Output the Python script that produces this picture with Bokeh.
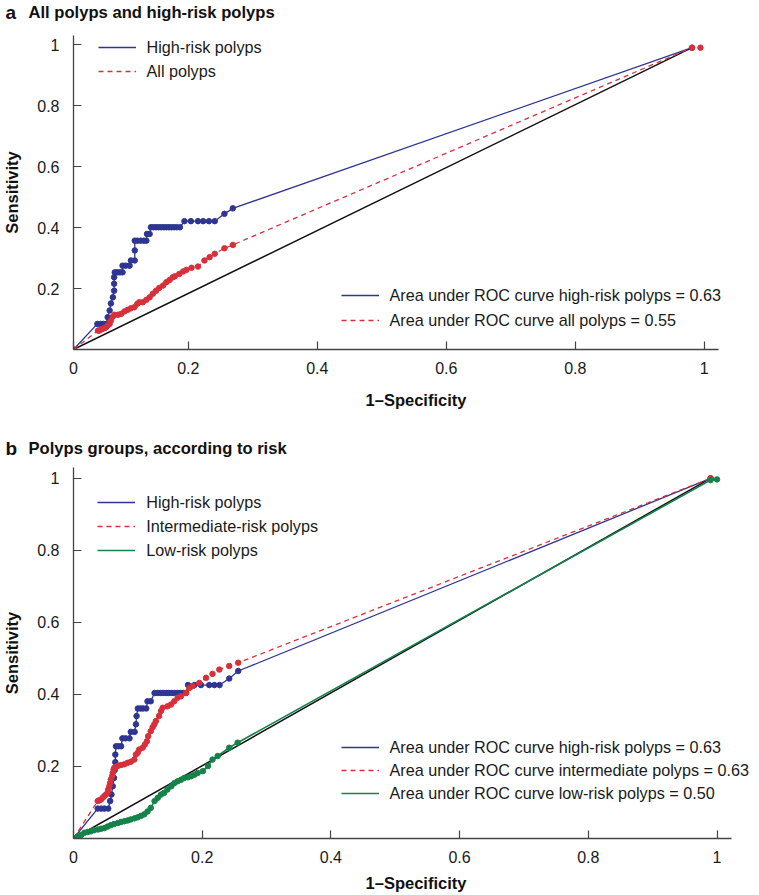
from bokeh.plotting import figure
from bokeh.models import (Legend, LegendItem, Label, FixedTicker,
                          CustomJSTickFormatter, Range1d)
from bokeh.layouts import column
from bokeh.embed import file_html
from bokeh.resources import INLINE

FONT = "Liberation Sans"
BLUE = "#2E3592"
RED = "#D7303A"
GREEN = "#158349"
BLACK = "#111111"
TOTAL_W = 757

# ---------------- data: panel a ----------------
a_x_origin = 0.022
a_high_x = [0.022, 0.059, 0.064, 0.068, 0.073, 0.075, 0.078, 0.080, 0.083, 0.085, 0.085, 0.085,
            0.086, 0.090, 0.094, 0.098, 0.098, 0.103, 0.109, 0.111, 0.117, 0.117, 0.117, 0.121,
            0.126, 0.131, 0.135, 0.136, 0.140, 0.142, 0.146, 0.150, 0.154, 0.158, 0.162, 0.166,
            0.170, 0.174, 0.178, 0.182, 0.187, 0.194, 0.204, 0.215, 0.223, 0.232, 0.241, 0.256,
            0.269, 0.981]
a_high_y = [0.000, 0.084, 0.084, 0.084, 0.084, 0.106, 0.128, 0.151, 0.171, 0.193, 0.216, 0.237,
            0.253, 0.253, 0.253, 0.253, 0.275, 0.275, 0.275, 0.292, 0.292, 0.325, 0.357, 0.357,
            0.357, 0.357, 0.357, 0.379, 0.379, 0.401, 0.401, 0.401, 0.401, 0.401, 0.401, 0.401,
            0.401, 0.401, 0.401, 0.401, 0.401, 0.421, 0.421, 0.421, 0.421, 0.421, 0.421, 0.445,
            0.463, 0.990]
a_all_x = [0.022, 0.060, 0.062, 0.065, 0.067, 0.070, 0.0725, 0.075, 0.078, 0.080, 0.083, 0.0855,
           0.091, 0.096, 0.101, 0.106, 0.111, 0.1165, 0.121, 0.124, 0.1295, 0.135, 0.140, 0.145,
           0.150, 0.155, 0.161, 0.166, 0.171, 0.176, 0.179, 0.186, 0.192, 0.197, 0.205, 0.215,
           0.225, 0.233, 0.241, 0.256, 0.269, 0.981, 0.994]
a_all_y = [0.000, 0.062, 0.062, 0.066, 0.068, 0.070, 0.073, 0.079, 0.084, 0.095, 0.108, 0.114,
           0.114, 0.117, 0.125, 0.130, 0.135, 0.139, 0.150, 0.155, 0.155, 0.163, 0.171, 0.183,
           0.193, 0.202, 0.210, 0.221, 0.228, 0.237, 0.240, 0.248, 0.256, 0.261, 0.268, 0.272,
           0.292, 0.303, 0.314, 0.332, 0.343, 0.990, 0.990]
a_diag_x = [0.022, 0.981]
a_diag_y = [0.0, 0.990]
a_title = ("a", "All polyps and high-risk polyps")
a_labels = ["High-risk polyps", "All polyps"]
a_auc = ["Area under ROC curve high-risk polyps = 0.63",
         "Area under ROC curve all polyps = 0.55"]

# ---------------- data: panel b ----------------
b_high_x = [0.0, 0.0376, 0.043, 0.048, 0.054, 0.057, 0.059, 0.061, 0.063, 0.064, 0.065, 0.065,
            0.066, 0.070, 0.074, 0.076, 0.081, 0.087, 0.089, 0.095, 0.097, 0.098, 0.100, 0.104,
            0.108, 0.113, 0.115, 0.120, 0.126, 0.130, 0.135, 0.139, 0.144, 0.148, 0.153, 0.157,
            0.162, 0.166, 0.171, 0.175, 0.178, 0.188, 0.198, 0.211, 0.219, 0.227, 0.242, 0.256,
            0.990]
b_high_y = [0.0, 0.083, 0.083, 0.083, 0.083, 0.104, 0.122, 0.145, 0.168, 0.190, 0.212, 0.233,
            0.256, 0.256, 0.256, 0.278, 0.278, 0.278, 0.296, 0.296, 0.317, 0.340, 0.361, 0.361,
            0.361, 0.361, 0.381, 0.381, 0.404, 0.404, 0.404, 0.404, 0.404, 0.404, 0.404, 0.404,
            0.404, 0.404, 0.404, 0.404, 0.426, 0.426, 0.426, 0.426, 0.426, 0.426, 0.444, 0.465,
            1.000]
b_mid_x = [0.0, 0.0376, 0.040, 0.0427, 0.0453, 0.048, 0.0505, 0.053, 0.054, 0.0557, 0.057, 0.058,
           0.060, 0.061, 0.0624, 0.0634, 0.066, 0.0687, 0.0738, 0.079, 0.084, 0.089, 0.0945, 0.097,
           0.0998, 0.102, 0.1075, 0.111, 0.114, 0.116, 0.120, 0.123, 0.1256, 0.128, 0.133, 0.136,
           0.1386, 0.146, 0.1515, 0.1566, 0.162, 0.167, 0.175, 0.180, 0.185, 0.1955, 0.206, 0.216,
           0.2266, 0.242, 0.256, 0.990]
b_mid_y = [0.0, 0.104, 0.106, 0.108, 0.113, 0.118, 0.122, 0.127, 0.136, 0.145, 0.154, 0.164,
           0.173, 0.182, 0.192, 0.196, 0.199, 0.201, 0.204, 0.206, 0.210, 0.213, 0.219, 0.233,
           0.238, 0.247, 0.252, 0.261, 0.270, 0.284, 0.298, 0.309, 0.317, 0.326, 0.340, 0.354,
           0.363, 0.367, 0.372, 0.381, 0.391, 0.395, 0.404, 0.418, 0.423, 0.432, 0.446, 0.457,
           0.469, 0.479, 0.488, 1.000]
b_low_x = [0.0, 0.0065, 0.012, 0.017, 0.022, 0.027, 0.032, 0.038, 0.043, 0.048, 0.053, 0.058,
           0.063, 0.069, 0.074, 0.079, 0.084, 0.089, 0.095, 0.100, 0.105, 0.110, 0.115, 0.120,
           0.126, 0.131, 0.136, 0.141, 0.146, 0.152, 0.157, 0.162, 0.167, 0.172, 0.178, 0.183,
           0.188, 0.193, 0.201, 0.209, 0.216, 0.224, 0.242, 0.255, 0.990, 1.000]
b_low_y = [0.0, 0.006, 0.010, 0.016, 0.018, 0.020, 0.023, 0.025, 0.027, 0.029, 0.033, 0.037,
           0.040, 0.043, 0.046, 0.048, 0.050, 0.053, 0.056, 0.059, 0.063, 0.067, 0.075, 0.085,
           0.104, 0.113, 0.122, 0.127, 0.136, 0.145, 0.154, 0.159, 0.163, 0.168, 0.170, 0.173,
           0.177, 0.182, 0.187, 0.201, 0.219, 0.229, 0.252, 0.266, 0.995, 0.997]
b_diag_x = [0.0, 0.990]
b_diag_y = [0.0, 1.000]
b_title = ("b", "Polyps groups, according to risk")
b_labels = ["High-risk polyps", "Intermediate-risk polyps", "Low-risk polyps"]
b_auc = ["Area under ROC curve high-risk polyps = 0.63",
         "Area under ROC curve intermediate polyps = 0.63",
         "Area under ROC curve low-risk polyps = 0.50"]

y_ticks = [0.2, 0.4, 0.6, 0.8, 1.0]
tick_fmt = "if (tick < 0.1) { return '0'; } if (tick > 0.99) { return '1'; } return tick.toFixed(1);"


def title_figure(parts, height):
    t = figure(frame_width=TOTAL_W, frame_height=height,
               x_range=Range1d(0, TOTAL_W), y_range=Range1d(0, height),
               output_backend="svg", toolbar_location=None, title=None,
               x_axis_type=None, y_axis_type=None,
               min_border_left=0, min_border_right=0, min_border_top=0, min_border_bottom=0)
    t.frame_align = False
    t.outline_line_color = None
    t.grid.visible = False
    t.add_layout(Label(x=5, y=height / 2, text=parts[0], text_font=FONT,
                       text_font_size="19px", text_font_style="bold",
                       text_baseline="middle", text_color="#111111"))
    t.add_layout(Label(x=28, y=height / 2, text=parts[1], text_font=FONT,
                       text_font_size="16.6px", text_font_style="bold",
                       text_baseline="middle", text_color="#111111"))
    return t


def base_figure(frame_w, frame_h, xr, yr, x_bounds, x_ticks, top, bottom):
    p = figure(frame_width=frame_w, frame_height=frame_h,
               x_range=Range1d(*xr), y_range=Range1d(*yr),
               output_backend="svg", toolbar_location=None, title=None,
               min_border_left=72, min_border_right=0,
               min_border_top=top, min_border_bottom=bottom)
    p.frame_align = False
    p.outline_line_color = None
    p.grid.visible = False
    p.background_fill_color = "white"
    for ax in (p.xaxis[0], p.yaxis[0]):
        ax.axis_line_color = "#444444"
        ax.axis_line_width = 1.3
        ax.major_tick_line_color = "#444444"
        ax.major_tick_line_width = 1.2
        ax.major_tick_in = 8
        ax.major_tick_out = 0
        ax.minor_tick_line_color = None
        ax.major_label_text_font = FONT
        ax.major_label_text_font_size = "16px"
        ax.major_label_text_color = "#1a1a1a"
        ax.axis_label_text_font = FONT
        ax.axis_label_text_font_size = "16.5px"
        ax.axis_label_text_font_style = "bold"
        ax.axis_label_text_color = "#111111"
        ax.formatter = CustomJSTickFormatter(code=tick_fmt)
    p.xaxis[0].bounds = x_bounds
    p.xaxis[0].ticker = FixedTicker(ticks=x_ticks)
    p.yaxis[0].ticker = FixedTicker(ticks=y_ticks)
    p.xaxis[0].axis_label = "1\u2013Specificity"
    p.yaxis[0].axis_label = "Sensitivity"
    p.xaxis[0].major_label_standoff = 12
    p.yaxis[0].major_label_standoff = 14
    p.yaxis[0].axis_label_standoff = 13
    return p


def make_legend(items, loc, spacing):
    return Legend(items=items, location=loc, padding=0, margin=0, spacing=spacing,
                  label_height=20, glyph_height=20, glyph_width=38, label_standoff=11,
                  label_text_font=FONT, label_text_font_size="16.2px",
                  label_text_color="#1a1a1a", border_line_alpha=0,
                  background_fill_alpha=0)


FRAME_W = TOTAL_W - 72

# ---------------- panel a ----------------
ta = title_figure(a_title, 24)
pa = base_figure(FRAME_W, 314, (a_x_origin, a_x_origin + FRAME_W / 645.0), (0.0, 1.03),
                 (a_x_origin, 1.022), [a_x_origin, 0.2, 0.4, 0.6, 0.8, 1.0], top=11, bottom=87)
pa.xaxis[0].axis_label_standoff = 14
pa.line(a_diag_x, a_diag_y, line_color=BLACK, line_width=1.5)
ra_high = pa.line(a_high_x, a_high_y, line_color=BLUE, line_width=1.3)
pa.scatter(a_high_x, a_high_y, size=5.5, fill_color=BLUE, line_color=BLUE)
ra_all = pa.line(a_all_x, a_all_y, line_color=RED, line_width=1.3, line_dash="5 4")
pa.scatter(a_all_x, a_all_y, size=5.5, fill_color=RED, line_color=RED)

pa.add_layout(make_legend([LegendItem(label=a_labels[0], renderers=[ra_high]),
                           LegendItem(label=a_labels[1], renderers=[ra_all])],
                          (24.5, 268), 4))
pa.add_layout(make_legend([LegendItem(label=a_auc[0], renderers=[ra_high]),
                           LegendItem(label=a_auc[1], renderers=[ra_all])],
                          (267.5, 19), 5))

# ---------------- panel b ----------------
tb = title_figure(b_title, 24)
pb = base_figure(FRAME_W, 371, (0.0, FRAME_W / 643.5), (0.0, 1.03),
                 (0.0, 1.022), [0.0, 0.2, 0.4, 0.6, 0.8, 1.0], top=7, bottom=55)
pb.xaxis[0].axis_label_standoff = 8
pb.line(b_diag_x, b_diag_y, line_color=BLACK, line_width=1.5)
rb_high = pb.line(b_high_x, b_high_y, line_color=BLUE, line_width=1.3)
pb.scatter(b_high_x, b_high_y, size=5.5, fill_color=BLUE, line_color=BLUE)
rb_mid = pb.line(b_mid_x, b_mid_y, line_color=RED, line_width=1.3, line_dash="5 4")
pb.scatter(b_mid_x, b_mid_y, size=5.5, fill_color=RED, line_color=RED)
rb_low = pb.line(b_low_x, b_low_y, line_color=GREEN, line_width=1.6)
pb.scatter(b_low_x, b_low_y, size=5.5, fill_color=GREEN, line_color=GREEN)

pb.add_layout(make_legend([LegendItem(label=b_labels[0], renderers=[rb_high]),
                           LegendItem(label=b_labels[1], renderers=[rb_mid]),
                           LegendItem(label=b_labels[2], renderers=[rb_low])],
                          (24.2, 278), 4))
pb.add_layout(make_legend([LegendItem(label=b_auc[0], renderers=[rb_high]),
                           LegendItem(label=b_auc[1], renderers=[rb_mid]),
                           LegendItem(label=b_auc[2], renderers=[rb_low])],
                          (267.5, 35), 3))

layout = column(ta, pa, tb, pb, spacing=0)
open("out.html", "w").write(file_html(layout, INLINE))
